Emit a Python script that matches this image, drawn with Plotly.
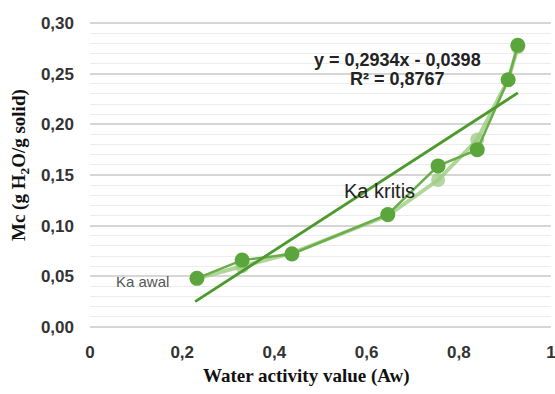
import plotly.graph_objects as go

aw = [0.232, 0.33, 0.438, 0.646, 0.755, 0.84, 0.907, 0.928]
mc_main = [0.048, 0.066, 0.072, 0.111, 0.159, 0.175, 0.244, 0.278]
mc_light = [0.048, 0.060, 0.073, 0.110, 0.145, 0.185, 0.244, 0.276]
trend_x = [0.228, 0.928]
trend_y = [0.025, 0.231]

x_ticks = [0, 0.2, 0.4, 0.6, 0.8, 1]
x_ticktext = ["<b>0</b>", "<b>0,2</b>", "<b>0,4</b>", "<b>0,6</b>", "<b>0,8</b>", "<b>1</b>"]
y_ticks = [0, 0.05, 0.10, 0.15, 0.20, 0.25, 0.30]
y_ticktext = ["<b>0,00</b>", "<b>0,05</b>", "<b>0,10</b>", "<b>0,15</b>",
              "<b>0,20</b>", "<b>0,25</b>", "<b>0,30</b>"]

W, H, L, R, T, B = 555, 394, 90, 4, 22, 66
pw, ph = W - L - R, H - T - B


def px(x):
    return (x - L) / pw


def py(y):
    return (H - y - B) / ph


fig = go.Figure()
fig.add_trace(go.Scatter(x=aw, y=mc_light, mode="lines+markers",
                         line=dict(color="rgba(150,200,120,0.75)", width=4),
                         marker=dict(size=14, color="rgba(160,205,135,0.8)"),
                         showlegend=False))
fig.add_trace(go.Scatter(x=aw, y=mc_main, mode="lines+markers",
                         line=dict(color="#6aae4a", width=2.5),
                         marker=dict(size=15, color="#5ba63c"),
                         showlegend=False))
fig.add_trace(go.Scatter(x=trend_x, y=trend_y, mode="lines",
                         line=dict(color="#4c9a2c", width=2.8),
                         showlegend=False))

eq_font = dict(family="Liberation Sans, Arial", size=18, color="#222")
fig.add_annotation(x=px(397), y=py(60), xref="paper", yref="paper", showarrow=False,
                   xanchor="center", yanchor="middle",
                   text="<b>y = 0,2934x - 0,0398</b>", font=eq_font)
fig.add_annotation(x=px(397), y=py(79), xref="paper", yref="paper", showarrow=False,
                   xanchor="center", yanchor="middle",
                   text="<b>R² = 0,8767</b>", font=eq_font)
fig.add_annotation(x=px(379), y=py(191), xref="paper", yref="paper", showarrow=False,
                   xanchor="center", yanchor="middle",
                   text="Ka kritis",
                   font=dict(family="Liberation Sans, Arial", size=20, color="#222"))
fig.add_annotation(x=px(142), y=py(281), xref="paper", yref="paper", showarrow=False,
                   xanchor="center", yanchor="middle",
                   text="Ka awal",
                   font=dict(family="Liberation Sans, Arial", size=15, color="#555"))
fig.add_annotation(x=px(306), y=py(376), xref="paper", yref="paper", showarrow=False,
                   xanchor="center", yanchor="middle",
                   text="<b>Water activity value (Aw)</b>",
                   font=dict(family="Liberation Serif, Times New Roman", size=19, color="#111"))
fig.add_annotation(x=px(20), y=py(165), xref="paper", yref="paper", showarrow=False,
                   xanchor="center", yanchor="middle",
                   text="<b>Mc (g H<sub>2</sub>O/g solid)</b>", textangle=-90,
                   font=dict(family="Liberation Serif, Times New Roman", size=19, color="#111"))

fig.update_layout(
    width=W, height=H,
    margin=dict(l=L, r=R, t=T, b=B, autoexpand=False),
    paper_bgcolor="white", plot_bgcolor="white",
    xaxis=dict(range=[0, 1], tickvals=x_ticks, ticktext=x_ticktext,
               showgrid=False, zeroline=False, showline=False, ticks="",
               ticklabelstandoff=12, automargin=False, ticklabeloverflow="allow",
               tickfont=dict(family="Liberation Sans, Arial", size=17, color="#333")),
    yaxis=dict(range=[-0.001, 0.301], tickvals=y_ticks, ticktext=y_ticktext,
               showgrid=True, gridcolor="#d6d6d6", gridwidth=1.5,
               minor=dict(dtick=0.01, tick0=0, showgrid=True, gridcolor="#ececec", gridwidth=1),
               zeroline=False, showline=False, ticks="",
               ticklabelstandoff=15, automargin=False,
               tickfont=dict(family="Liberation Sans, Arial", size=17, color="#333")),
)

fig.write_html("out.html", config={"displayModeBar": False},
               post_script="document.body.style.margin='0';")
